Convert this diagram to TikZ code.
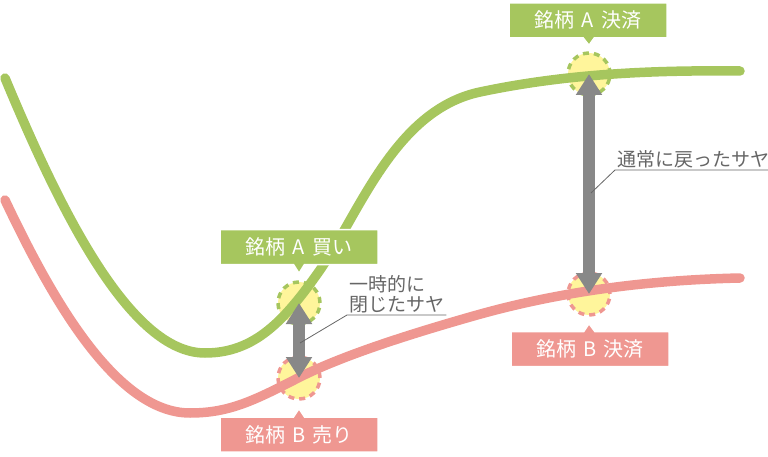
\documentclass[tikz,border=0pt]{standalone}
\usepackage{fontspec}
\setmainfont{Noto Sans CJK JP}
\usepackage{tikz}
\usepackage{xcolor}
\usetikzlibrary{positioning,arrows.meta,shapes.callouts}
\definecolor{gr}{HTML}{A6C65E}
\definecolor{pk}{HTML}{EF9791}
\definecolor{ye}{HTML}{FFF59B}
\definecolor{ar}{HTML}{888888}
\definecolor{tx}{HTML}{666666}
\newcommand{\tagfont}{\fontsize{20}{22}\selectfont\spaceskip=7pt\relax}
\tikzstyle{curve} = [line width=9.5pt, line cap=round]
\tikzstyle{spot} = [circle, minimum size=42pt, inner sep=0pt, fill=ye, line width=3.5pt, dash pattern=on 6pt off 5pt]
\tikzstyle{tag} = [rectangle callout, minimum width=158pt, minimum height=35pt, inner sep=0pt, draw=white, line width=1.5pt, text=white, font=\tagfont, callout pointer width=11pt]
\tikzstyle{spread} = [draw=ar, line width=12pt, {Triangle[width=25pt,length=21pt]}-{Triangle[width=25pt,length=21pt]}]
\tikzstyle{note} = [text=tx, font=\fontsize{19}{20}\selectfont, inner sep=2pt, align=left, anchor=south west]
\tikzstyle{lead} = [draw=tx, line width=0.8pt]

\begin{document}
\begin{tikzpicture}[x=1pt,y=-1pt]
			\useasboundingbox (0,0) rectangle (768,457);
			\node[spot, draw=gr] (a1) at (299,303) {};
			\node[spot, draw=pk] (b1) at (299,378) {};
			\node[spot, draw=gr] (a2) at (589,74) {};
			\node[spot, draw=pk] (b2) at (589,294) {};
			\draw[curve, gr] (5,78) .. controls (60,210) and (130,353) .. (205,353)
				.. controls (255,353) and (285,320) .. (320,270)
				.. controls (360,212) and (395,110) .. (480,92)
				.. controls (565,74) and (650,70) .. (740,71);
			\draw[curve, pk] (5,200) .. controls (50,295) and (115,413) .. (190,413)
				.. controls (230,413) and (255,400) .. (300,377)
				.. controls (340,357) and (400,337) .. (470,317)
				.. controls (560,291) and (650,280) .. (740,278);
			\draw[spread] (a1.center) -- (b1.center);
			\draw[spread] (a2.center) -- (b2.center);
			\node[tag, fill=gr, callout absolute pointer={([yshift=7pt]a1.north)}] (u) at (299,247) {銘柄 A 買い};
			\node[tag, fill=pk, callout absolute pointer={([yshift=-8pt]b1.south)}] (s) at (299,434.5) {銘柄 B 売り};
			\node[tag, fill=gr, callout absolute pointer={([yshift=6pt]a2.north)}] (t) at (588,20.5) {銘柄 A 決済};
			\node[tag, fill=pk, callout absolute pointer={([yshift=-7pt]b2.south)}] (v) at (590,349) {銘柄 B 決済};
			\node[note] (n1) at (347,315) {一時的に\\閉じたサヤ};
			\node[note] (n2) at (615,170) {通常に戻ったサヤ};
			\coordinate (p1) at (300,343);
			\coordinate (p2) at (591,193);
			\draw[lead] (p1) -- (n1.south west) -- (n1.south east);
			\draw[lead] (p2) -- (n2.south west) -- (n2.south east);
		\end{tikzpicture}
\end{document}
